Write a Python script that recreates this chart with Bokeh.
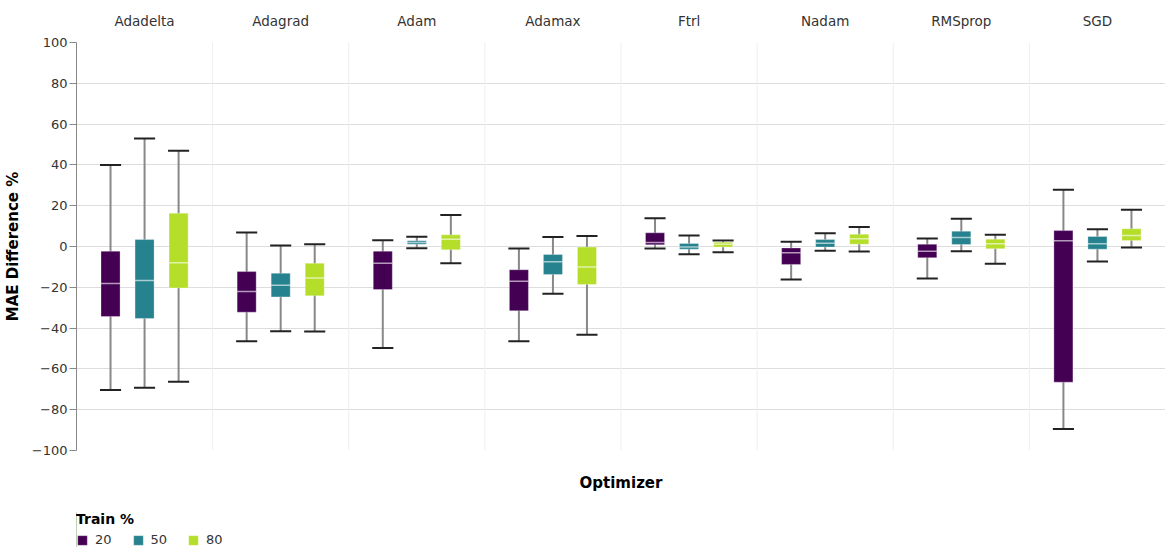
from bokeh.plotting import figure
from bokeh.layouts import column
from bokeh.models import (FactorRange, Range1d, ColumnDataSource, CategoricalAxis, Span,
                          Title, Legend, LegendItem, FixedTicker, CustomJSTickFormatter)
from bokeh.embed import file_html
from bokeh.resources import INLINE

FONT = "DejaVu Sans"

optimizers = ["Adadelta", "Adagrad", "Adam", "Adamax", "Ftrl", "Nadam", "RMSprop", "SGD"]
train_pcts = ["20", "50", "80"]
colors = ["#440154", "#26828e", "#b5de2b"]

# box-plot statistics, one list per train %, in optimizer order
lower = {
    "20": [-70.4, -46.4, -49.7, -46.4, -1.0, -16.2, -15.7, -89.4],
    "50": [-69.3, -41.5, -0.8, -23.2, -3.8, -2.1, -2.3, -7.4],
    "80": [-66.3, -41.7, -8.2, -43.3, -2.8, -2.5, -8.5, -0.5],
}
q1 = {
    "20": [-34.3, -32.2, -21.1, -31.5, 0.8, -8.8, -5.5, -66.5],
    "50": [-35.3, -24.7, 1.1, -13.7, -1.3, -0.3, 1.0, -1.3],
    "80": [-20.3, -24.2, -1.6, -18.6, -0.3, 1.1, -1.1, 2.9],
}
median = {
    "20": [-18.1, -22.0, -8.2, -17.0, 2.0, -3.1, -2.3, 2.8],
    "50": [-16.7, -19.0, 2.0, -7.5, -0.2, 1.6, 4.4, 1.3],
    "80": [-8.0, -15.4, 3.6, -10.1, 1.1, 3.8, 1.3, 5.4],
}
q3 = {
    "20": [-2.3, -12.3, -2.3, -11.4, 6.7, -0.7, 1.1, 7.8],
    "50": [3.4, -13.1, 2.8, -3.9, 1.5, 3.4, 7.5, 4.9],
    "80": [16.3, -8.2, 5.7, -0.3, 2.1, 6.0, 3.6, 8.7],
}
upper = {
    "20": [40.0, 6.9, 3.1, -1.0, 13.9, 2.3, 3.9, 27.8],
    "50": [52.9, 0.5, 4.8, 4.6, 5.4, 6.5, 13.6, 8.5],
    "80": [46.9, 1.1, 15.4, 5.1, 2.9, 9.5, 5.7, 18.0],
}
y_ticks = list(range(-100, 101, 20))

GROUP_PAD = 1.0
x_range = FactorRange(factors=[(o, t) for o in optimizers for t in train_pcts],
                      factor_padding=0, group_padding=GROUP_PAD,
                      range_padding=GROUP_PAD / 2, range_padding_units="absolute")

p = figure(frame_width=1089, frame_height=408, x_range=x_range, y_range=Range1d(-100, 100),
           x_axis_location=None, output_backend="svg", toolbar_location=None,
           min_border_left=68, min_border_right=0, min_border_top=34, min_border_bottom=56,
           outline_line_color=None, background_fill_color="white")
p.xgrid.visible = False

# facet header labels on top, with an invisible title above them for headroom
p.extra_x_ranges = {"facet": FactorRange(factors=optimizers)}
top_axis = CategoricalAxis(x_range_name="facet", axis_line_color=None,
                           major_tick_line_color=None, minor_tick_line_color=None,
                           major_label_text_font=FONT, major_label_text_font_size="13.5px",
                           major_label_text_color="#333333", major_label_standoff=8)
p.add_layout(top_axis, "above")
p.add_layout(Title(text=" ", text_font_size="7px", standoff=0, offset=0), "above")

# y axis
yax = p.yaxis[0]
yax.ticker = FixedTicker(ticks=y_ticks)
yax.formatter = CustomJSTickFormatter(
    code="return tick < 0 ? '\\u2212' + Math.abs(tick) : String(tick);")
yax.axis_label = "MAE Difference %"
yax.axis_label_text_font = FONT
yax.axis_label_text_font_size = "15px"
yax.axis_label_text_font_style = "bold"
yax.axis_label_text_color = "#000000"
yax.axis_label_standoff = 7
yax.major_label_text_font = FONT
yax.major_label_text_font_size = "13px"
yax.major_label_text_color = "#333333"
yax.major_label_standoff = 2
yax.axis_line_color = "#888888"
yax.major_tick_line_color = "#888888"
yax.major_tick_out = 7
yax.major_tick_in = 0
yax.minor_tick_line_color = None
p.ygrid.grid_line_color = "#dddddd"

# facet separators
n_t = len(train_pcts)
for k in range(len(optimizers) - 1):
    loc = (k + 1) * n_t + k * GROUP_PAD + GROUP_PAD / 2
    p.add_layout(Span(location=loc, dimension="height", line_color="#eeeeee", line_width=1))

for t, c in zip(train_pcts, colors):
    src = ColumnDataSource(dict(x=[(o, t) for o in optimizers], lower=lower[t], q1=q1[t],
                                median=median[t], q3=q3[t], upper=upper[t]))
    p.segment(x0="x", y0="lower", x1="x", y1="upper", source=src,
              line_color="#888888", line_width=2)
    p.rect(x="x", y="lower", width=0.62, height=2, height_units="screen", source=src,
           fill_color="#222222", line_color=None)
    p.rect(x="x", y="upper", width=0.62, height=2, height_units="screen", source=src,
           fill_color="#222222", line_color=None)
    p.vbar(x="x", top="q3", bottom="q1", width=0.56, source=src,
           fill_color=c, line_color="white", line_alpha=0.3, line_width=1)
    p.rect(x="x", y="median", width=0.56, height=1.5, height_units="screen", source=src,
           fill_color="white", fill_alpha=0.6, line_color=None)

p.add_layout(Title(text="Optimizer", align="center", text_font=FONT, text_font_size="15px",
                   text_font_style="bold", text_color="#000000", standoff=42), "below")

# legend strip underneath (swatch glyphs sit outside the visible range)
lg = figure(width=1157, height=35, x_range=Range1d(0, 1), y_range=Range1d(0, 1),
            x_axis_location=None, y_axis_location=None, output_backend="svg",
            toolbar_location=None, min_border_left=68, min_border_right=0,
            min_border_top=0, min_border_bottom=0, outline_line_color=None)
lg.grid.visible = False
swatches = []
for t, c in zip(train_pcts, colors):
    swatches.append(lg.vbar(x=[-10], top=[1], bottom=[0], width=0.5, fill_color=c,
                            line_color="white", line_alpha=0.3))
legend = Legend(items=[LegendItem(label=t, renderers=[r]) for t, r in zip(train_pcts, swatches)],
                orientation="horizontal", location=(0, 0), title="Train %",
                title_text_font=FONT, title_text_font_size="14px", title_text_font_style="bold",
                title_text_color="#000000", title_standoff=5,
                label_text_font=FONT, label_text_font_size="13px", label_text_color="#333333",
                glyph_width=12, glyph_height=12, label_standoff=7, label_width=14, spacing=20,
                label_height=13, padding=0, margin=0, border_line_color=None,
                background_fill_alpha=0)
lg.add_layout(legend, "center")

open("out.html", "w").write(file_html(column(p, lg, spacing=0), INLINE))
